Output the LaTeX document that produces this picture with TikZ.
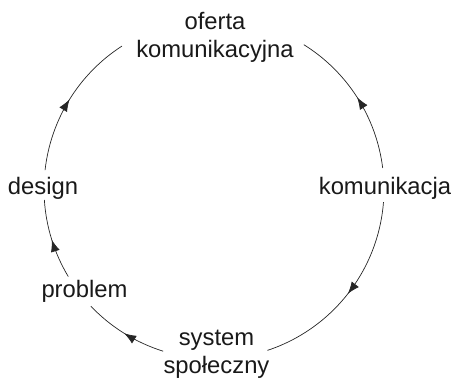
\documentclass[tikz,border=0pt]{standalone}
\usepackage{fontspec}
\setmainfont{Liberation Sans}
\usetikzlibrary{arrows.meta,decorations.markings,calc}
\begin{document}
\begin{tikzpicture}[x=1pt,y=1pt,
  lbl/.style={inner sep=0pt,font=\fontsize{23.8}{27.5}\selectfont,text=black!90,align=center},
  flow/.style={line width=0.7pt,draw=black!85,postaction={decorate},
    decoration={markings,mark=at position 0.5 with {\arrow{Latex[length=12pt,width=9pt]}}}}]
\useasboundingbox (0,0) rectangle (453,-380);
\coordinate (C) at (214,-189);
\def\R{170}
% labels
\node[lbl,anchor=base] (oferta) at (215,-57) {oferta\\komunikacyjna};
\node[lbl,anchor=base] (design) at (43,-194) {design};
\node[lbl,anchor=base] (komunikacja) at (385,-194) {komunikacja};
\node[lbl,anchor=base] (problem) at (84.5,-297) {problem};
\node[lbl,anchor=base] (system) at (216.5,-373) {system\\społeczny};
% arc end points
\coordinate (dA) at ($(C)+(173.6:\R)$);
\coordinate (oL) at ($(C)+(122.8:\R)$);
\coordinate (kA) at ($(C)+(7.1:\R)$);
\coordinate (oR) at ($(C)+(58.1:\R)$);
\coordinate (kB) at ($(C)+(355.6:\R)$);
\coordinate (sR) at ($(C)+(288.3:\R)$);
\coordinate (sL) at ($(C)+(252.6:\R)$);
\coordinate (pB) at ($(C)+(223.6:\R)$);
\coordinate (pA) at ($(C)+(211:\R)$);
\coordinate (dB) at ($(C)+(183.7:\R)$);
% connectors
\draw[flow] (dA) arc[start angle=173.6,end angle=122.8,radius=\R];
\draw[flow] (kA) arc[start angle=7.1,end angle=58.1,radius=\R];
\draw[flow] (kB) arc[start angle=355.6,end angle=288.3,radius=\R];
\draw[flow] (sL) arc[start angle=252.6,end angle=223.6,radius=\R];
\draw[flow] (pA) arc[start angle=211,end angle=183.7,radius=\R];
\end{tikzpicture}
\end{document}
